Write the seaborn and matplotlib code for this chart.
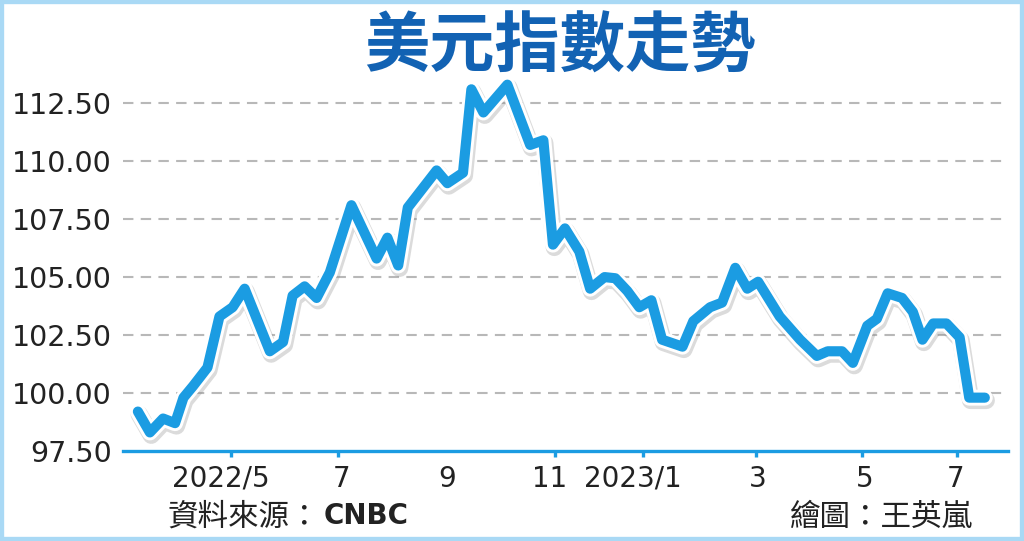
import pandas as pd
import matplotlib
matplotlib.use("Agg")
import matplotlib.pyplot as plt
import matplotlib.patheffects as pe
from matplotlib.patches import Rectangle
import seaborn as sns

# weeks since start of series (early Mar 2022) and DXY values
weeks = [0.0, 1.0, 2.1, 3.1, 3.8, 4.6, 5.8, 6.8, 7.9, 8.9,
         11.0, 12.1, 12.9, 13.9, 14.9, 16.0, 17.8, 19.9, 20.8, 21.7,
         22.5, 24.9, 25.8, 27.1, 27.8, 28.8, 30.8, 32.7, 33.8, 34.6,
         35.6, 36.8, 37.7, 38.9, 39.8, 40.8, 41.8, 42.8, 43.7, 45.4,
         46.3, 47.7, 48.7, 49.8, 50.8, 51.7, 53.5, 55.2, 56.6, 57.5,
         58.7, 59.6, 60.8, 61.6, 62.5, 63.7, 64.6, 65.4, 66.3, 67.4,
         68.5, 69.3, 70.6]
dxy = [99.2, 98.3, 98.9, 98.7, 99.8, 100.3, 101.1, 103.3, 103.7, 104.5,
       101.8, 102.2, 104.2, 104.6, 104.1, 105.2, 108.1, 105.8, 106.7, 105.5,
       108.0, 109.6, 109.05, 109.5, 113.1, 112.1, 113.3, 110.7, 110.9, 106.4,
       107.1, 106.1, 104.5, 105.0, 104.95, 104.4, 103.7, 104.0, 102.3, 102.0,
       103.1, 103.7, 103.9, 105.4, 104.5, 104.8, 103.3, 102.3, 101.6, 101.8,
       101.8, 101.3, 102.9, 103.2, 104.3, 104.1, 103.5, 102.3, 103.0, 103.0,
       102.4, 99.8, 99.8]

tick_marks = [7.8, 16.7, 25.8, 34.75, 42.1, 51.5, 60.4, 68.3]
label_pos = [6.9, 17.0, 25.8, 34.3, 41.3, 51.7, 60.6, 68.2]
tick_labels = ["2022/5", "7", "9", "11", "2023/1", "3", "5", "7"]
y_ticks = [97.5, 100.0, 102.5, 105.0, 107.5, 110.0, 112.5]

LINE = "#1b9ce2"
TITLE = "#1262b3"
CJK = ["Noto Sans CJK TC", "DejaVu Sans"]

df = pd.DataFrame({"week": weeks, "dxy": dxy})

sns.set_theme(style="white")
plt.rcParams["font.family"] = ["DejaVu Sans", "Noto Sans CJK TC"]

fig = plt.figure(figsize=(10.24, 5.41), dpi=100)
fig.patch.set_facecolor("white")
ax = fig.add_axes([0.120, 0.1664, 0.864, 0.6857])

sns.lineplot(data=df, x="week", y="dxy", ax=ax, color=LINE, linewidth=7.3)
line = ax.lines[0]
line.set_solid_joinstyle("round")
line.set_solid_capstyle("round")
line.set_clip_on(False)
line.set_path_effects([
    pe.SimpleLineShadow(offset=(1, -2), shadow_color="#888888", alpha=0.3, linewidth=12.5),
    pe.Stroke(linewidth=11.5, foreground="white"),
    pe.Normal(),
])
line.set_zorder(5)

ax.set_xlim(-1.25, 72.5)
ax.set_ylim(97.5, 113.5)

ax.set_yticks(y_ticks)
ax.set_yticklabels([f"{v:.2f}" for v in y_ticks])
for y in y_ticks[1:]:
    ax.axhline(y, color="#b8b8b8", linewidth=1.5, linestyle=(0, (5, 3.5)), zorder=1)

ax.set_xticks(label_pos)
ax.set_xticklabels(tick_labels)
ax.set_xticks(tick_marks, minor=True)
ax.tick_params(axis="x", which="major", bottom=True, length=0, pad=10,
               labelsize=20, labelcolor="#222222")
ax.tick_params(axis="x", which="minor", bottom=True, length=4, width=2.4,
               color=LINE, direction="out")
ax.tick_params(axis="y", length=0, pad=8, labelsize=20.5, labelcolor="#222222")

for side in ["top", "right", "left"]:
    ax.spines[side].set_visible(False)
ax.spines["bottom"].set_color(LINE)
ax.spines["bottom"].set_linewidth(2.4)
ax.set_xlabel("")
ax.set_ylabel("")
ax.set_facecolor("white")

fig.text(0.547, 0.913, "美元指數走勢", ha="center", va="center", fontsize=47,
         fontweight="bold", color=TITLE, family=CJK)
fig.text(0.164, 0.044, "資料來源：", ha="left", va="center", fontsize=22,
         color="#222222", family=CJK)
fig.text(0.316, 0.046, "CNBC", ha="left", va="center", fontsize=20,
         fontweight="bold", color="#222222", family=["DejaVu Sans"])
fig.text(0.950, 0.044, "繪圖：王英嵐", ha="right", va="center", fontsize=22,
         color="#222222", family=CJK)

fig.patches.append(Rectangle((0, 0), 1, 1, transform=fig.transFigure, fill=False,
                             edgecolor="#a9d9f5", linewidth=6, zorder=10))

fig.savefig("out.png", dpi=100)
